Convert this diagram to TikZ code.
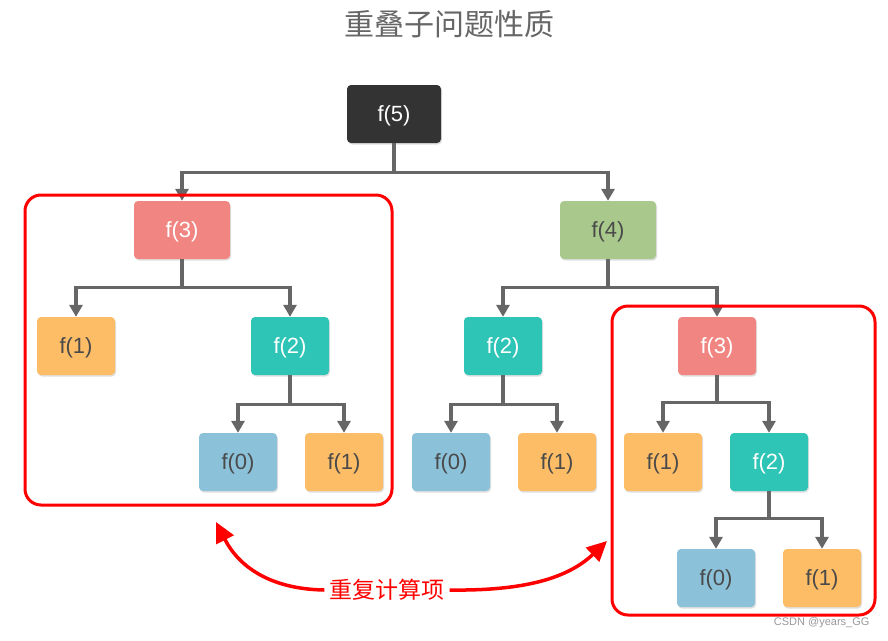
\documentclass[tikz,border=0pt]{standalone}
\usepackage{fontspec}
\setmainfont{Liberation Sans}
\newfontfamily\cjk{Noto Sans CJK SC}
\usetikzlibrary{arrows.meta,shadows,fit}
\definecolor{cdark}{HTML}{333333}
\definecolor{cpink}{HTML}{F08581}
\definecolor{cgreen}{HTML}{A8C98B}
\definecolor{cteal}{HTML}{2EC4B6}
\definecolor{corange}{HTML}{FDBD66}
\definecolor{cblue}{HTML}{8BC2DA}
\definecolor{cline}{HTML}{666666}
\definecolor{ctxt}{HTML}{4A4A4A}
\tikzset{
  box/.style={rectangle, rounded corners=4pt, minimum height=58pt, minimum width=78pt,
    font=\fontsize{22}{26}\selectfont, inner sep=0pt, text depth=0pt,
    drop shadow={opacity=0.25, shadow xshift=1pt, shadow yshift=-1.5pt}},
  dk/.style={box, fill=cdark, text=white, minimum width=94pt},
  pk/.style={box, fill=cpink, text=white},
  gr/.style={box, fill=cgreen, text=ctxt},
  tl/.style={box, fill=cteal, text=white},
  og/.style={box, fill=corange, text=ctxt},
  bl/.style={box, fill=cblue, text=ctxt},
  conn/.style={draw=cline, line width=3.2pt, -{Triangle[length=12pt,width=13pt]}},
  redbox/.style={draw=red, line width=3pt, rounded corners=16pt, inner sep=0pt},
  redarrow/.style={draw=red, line width=3.5pt, -{Triangle[length=20pt,width=19pt]}}
}
\begin{document}
\begin{tikzpicture}[x=1pt,y=-1pt]
\useasboundingbox (0,0) rectangle (888,640);
\node[text=cline, font=\cjk\fontsize{30}{34}\selectfont] (title) at (449,24) {重叠子问题性质};
% nodes
\node[dk] (f5) at (394,114) {f(5)};
\node[pk, minimum width=96pt] (a3) at (182,230) {f(3)};
\node[gr, minimum width=96pt] (b4) at (608,230) {f(4)};
\node[og] (a1) at (76,346) {f(1)};
\node[tl] (a2) at (290,346) {f(2)};
\node[bl] (a0) at (238,462) {f(0)};
\node[og] (a1b) at (344,462) {f(1)};
\node[tl] (m2) at (503,346) {f(2)};
\node[bl] (m0) at (451,462) {f(0)};
\node[og] (m1) at (557,462) {f(1)};
\node[pk] (r3) at (717,346) {f(3)};
\node[og] (r1) at (663,462) {f(1)};
\node[tl] (r2) at (769,462) {f(2)};
\node[bl] (r0) at (716,578) {f(0)};
\node[og] (r1b) at (822,578) {f(1)};
% connectors
\draw[conn] (f5.south) -- ++(0,29) coordinate (j5) -| (a3.north);
\draw[conn] (j5) -| (b4.north);
\draw[conn] (a3.south) -- ++(0,28) coordinate (ja3) -| (a1.north);
\draw[conn] (ja3) -| (a2.north);
\draw[conn] (a2.south) -- ++(0,29) coordinate (ja2) -| (a0.north);
\draw[conn] (ja2) -| (a1b.north);
\draw[conn] (b4.south) -- ++(0,28) coordinate (jb4) -| (m2.north);
\draw[conn] (jb4) -| (r3.north);
\draw[conn] (m2.south) -- ++(0,29) coordinate (jm2) -| (m0.north);
\draw[conn] (jm2) -| (m1.north);
\draw[conn] (r3.south) -- ++(0,27) coordinate (jr3) -| (r1.north);
\draw[conn] (jr3) -| (r2.north);
\draw[conn] (r2.south) -- ++(0,27) coordinate (jr2) -| (r0.north);
\draw[conn] (jr2) -| (r1b.north);
% red boxes
\coordinate (lb1) at (25,195); \coordinate (lb2) at (392,505);
\coordinate (rb1) at (612,306); \coordinate (rb2) at (875,615);
\node[redbox, fit=(lb1)(lb2)] (leftbox) {};
\node[redbox, fit=(rb1)(rb2)] (rightbox) {};
% label and curved arrows
\node[text=red, font=\cjk\fontsize{23}{27}\selectfont, inner sep=5pt] (rep) at (387,590) {重复计算项};
\coordinate (tipl) at (216,522);
\coordinate (tipr) at (607,541);
\draw[redarrow] (rep.west) .. controls (268,589) and (238,565) .. (tipl);
\draw[redarrow] (rep.east) .. controls (525,591) and (568,578) .. (tipr);
\node[text=gray!80, font=\fontsize{11}{13}\selectfont, anchor=east] (wm) at (873,623) {CSDN @years\_GG};
\end{tikzpicture}
\end{document}
